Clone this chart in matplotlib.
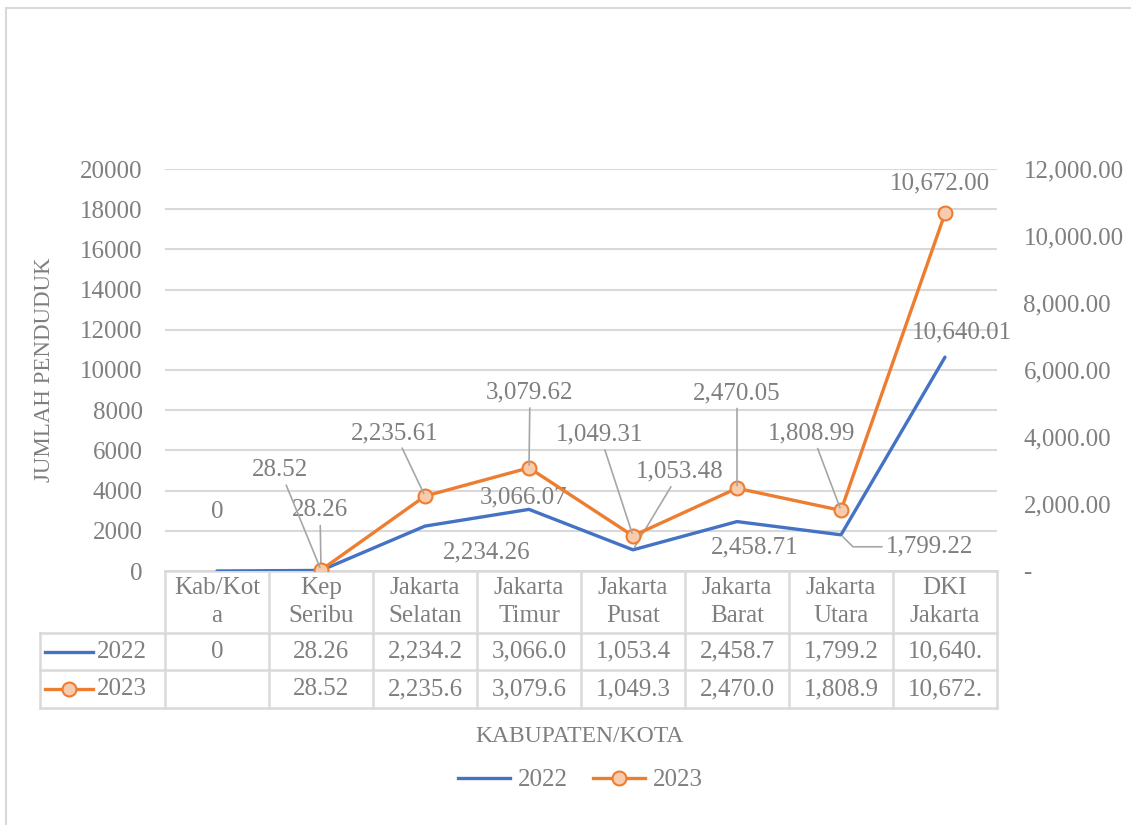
import matplotlib.pyplot as plt
from matplotlib.lines import Line2D
from matplotlib.patches import Rectangle

plt.rcParams['font.family'] = ['Liberation Serif', 'DejaVu Serif']

# data
kategori = ['Kab/Kot\na', 'Kep\nSeribu', 'Jakarta\nSelatan', 'Jakarta\nTimur',
            'Jakarta\nPusat', 'Jakarta\nBarat', 'Jakarta\nUtara', 'DKI\nJakarta']
th2022 = [0, 28.26, 2234.26, 3066.07, 1053.48, 2458.71, 1799.22, 10640.01]
th2023 = [None, 28.52, 2235.61, 3079.62, 1049.31, 2470.05, 1808.99, 10672.00]
yticks_kiri = [0, 2000, 4000, 6000, 8000, 10000, 12000, 14000, 16000, 18000, 20000]
yticks_kanan = [0, 2000, 4000, 6000, 8000, 10000, 12000]

grey = '#7f7f7f'
garis = '#d9d9d9'
biru = '#4472C4'
oranye = '#ED7D31'
fs = 18

fig = plt.figure(figsize=(11.31, 8.25), dpi=100)
# border area grafik
fig.patches.append(Rectangle((6/1131, -0.02), 1.05, 1 - 8/825 + 0.02, transform=fig.transFigure,
                             fill=False, edgecolor=garis, lw=1.5))

ax = fig.add_axes([165/1131, 1 - 571/825, 832/1131, 402/825])
ax2 = ax.twinx()

x = list(range(len(kategori)))
ax.plot(x, th2022, color=biru, lw=2.4, solid_capstyle='round', zorder=3)
x23 = [i for i, v in zip(x, th2023) if v is not None]
v23 = [v for v in th2023 if v is not None]
ax2.plot(x23, v23, color=oranye, lw=2.4, marker='o', ms=10, mfc='#F8CBAD', mec=oranye, mew=1.5, zorder=3)

ax.set_xlim(-0.5, len(kategori) - 0.5)
ax.set_ylim(0, 20000)
ax2.set_ylim(0, 12000)
ax.set_yticks(yticks_kiri)
ax.set_yticklabels([str(v) for v in yticks_kiri])
ax2.set_yticks(yticks_kanan)
ax2.set_yticklabels(['-' if v == 0 else f'{v:,.2f}' for v in yticks_kanan])
ax.set_xticks([])
ax.grid(axis='y', color=garis, lw=1.5)
ax.set_axisbelow(True)
for a in (ax, ax2):
    for s in a.spines.values():
        s.set_visible(False)
ax.tick_params(axis='y', length=0, pad=16, labelsize=fs, labelcolor=grey)
ax2.tick_params(axis='y', length=0, pad=19, labelsize=fs, labelcolor=grey)

ax.set_ylabel('JUMLAH PENDUDUK', fontsize=16.5, color=grey)
ax.yaxis.set_label_coords(-0.132, 0.5)

# label data (offset dalam points)
off22 = [(0, 42.5), (-0.7, 43.2), (44.6, -18.7), (-3.6, 8.6), (33.8, 56.2), (13, -18.7), (64, -8.6), (12.2, 18)]
lead22 = [False, True, False, False, True, False, True, False]
off23 = [None, (-29.5, 72), (-21.6, 45.4), (0.7, 54), (-23.8, 72.7), (0, 68.4), (-20.9, 55.4), (-3.6, 21.6)]
lead23 = [False, True, True, True, True, True, True, False]


def lbl(v):
    return '0' if v == 0 else f'{v:,.2f}'


for i, v in enumerate(th2022):
    ap = None
    if lead22[i]:
        cs = 'angle,angleA=0,angleB=-45,rad=0' if i == 6 else 'arc3'
        ap = dict(arrowstyle='-', color='#a6a6a6', lw=1.2, shrinkA=1, shrinkB=2, connectionstyle=cs)
    ax.annotate(lbl(v), xy=(i, v), xytext=off22[i], textcoords='offset points', ha='center', va='center',
                fontsize=fs, color=grey, arrowprops=ap, zorder=5)
for i, v in enumerate(th2023):
    if v is None:
        continue
    ap = None
    if lead23[i]:
        ap = dict(arrowstyle='-', color='#a6a6a6', lw=1.2, shrinkA=1, shrinkB=2)
    ax2.annotate(lbl(v), xy=(i, v), xytext=off23[i], textcoords='offset points', ha='center', va='center',
                 fontsize=fs, color=grey, arrowprops=ap, zorder=5)

# tabel data
tx = ax.get_xaxis_transform()
y_head = -62/402
y_r1 = -99/402
y_r2 = -137/402
x_left = -125/832
ax.add_line(Line2D([0, 1], [0, 0], transform=ax.transAxes, color=garis, lw=1.8, clip_on=False))
for yy in (y_head, y_r1, y_r2):
    ax.add_line(Line2D([x_left, 1], [yy, yy], transform=ax.transAxes, color=garis, lw=1.8, clip_on=False))
for k in range(len(kategori) + 1):
    ax.add_line(Line2D([k - 0.5, k - 0.5], [0, y_r2], transform=tx, color=garis, lw=1.8, clip_on=False))
ax.add_line(Line2D([x_left, x_left], [y_head, y_r2], transform=ax.transAxes, color=garis, lw=1.8, clip_on=False))


def sel(v):
    if v is None:
        return ''
    return '0' if v == 0 else f'{v:,.2f}'[:7]


for i, k in enumerate(kategori):
    ax.text(i, y_head / 2, k, transform=tx, ha='center', va='center', fontsize=fs, color=grey, linespacing=1.3)
    ax.text(i, (y_head + y_r1) / 2, sel(th2022[i]), transform=tx, ha='center', va='center', fontsize=fs, color=grey)
    ax.text(i, (y_r1 + y_r2) / 2, sel(th2023[i]), transform=tx, ha='center', va='center', fontsize=fs, color=grey)

# kunci legenda di tabel
ym1 = (y_head + y_r1) / 2
ym2 = (y_r1 + y_r2) / 2
ax.add_line(Line2D([-120/832, -72/832], [ym1, ym1], transform=ax.transAxes, color=biru, lw=2.4, clip_on=False))
ax.add_line(Line2D([-120/832, -72/832], [ym2, ym2], transform=ax.transAxes, color=oranye, lw=2.4, clip_on=False))
ax.add_line(Line2D([-96/832], [ym2], transform=ax.transAxes, color=oranye, marker='o', ms=10, mfc='#F8CBAD',
                   mec=oranye, mew=1.5, clip_on=False))
ax.text(-68/832, ym1, '2022', transform=ax.transAxes, ha='left', va='center', fontsize=fs, color=grey)
ax.text(-68/832, ym2, '2023', transform=ax.transAxes, ha='left', va='center', fontsize=fs, color=grey)

fig.text(580/1131, 1 - 737/825, 'KABUPATEN/KOTA', ha='center', va='center', fontsize=fs - 1, color=grey)

h1 = Line2D([], [], color=biru, lw=2.4)
h2 = Line2D([], [], color=oranye, lw=2.4, marker='o', ms=10, mfc='#F8CBAD', mec=oranye, mew=1.5)
fig.legend([h1, h2], ['2022', '2023'], loc='center', bbox_to_anchor=(580/1131, 1 - 780/825), ncol=2,
           frameon=False, fontsize=fs, labelcolor=grey, handlelength=2.1, handletextpad=0.3, columnspacing=1.0)

fig.savefig('out.png', dpi=100)
